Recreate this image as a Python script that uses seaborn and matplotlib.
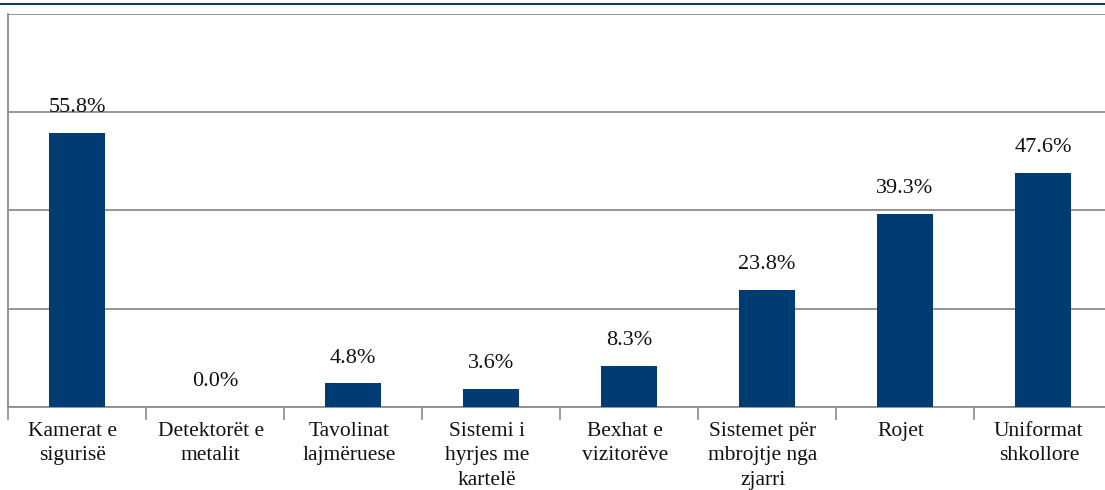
import matplotlib
matplotlib.use("Agg")
import matplotlib.pyplot as plt
import seaborn as sns
import pandas as pd
from matplotlib.lines import Line2D

categories = [
    "Kamerat e\nsigurisë",
    "Detektorët e\nmetalit",
    "Tavolinat\nlajmëruese",
    "Sistemi i\nhyrjes me\nkartelë",
    "Bexhat e\nvizitorëve",
    "Sistemet për\nmbrojtje nga\nzjarri",
    "Rojet",
    "Uniformat\nshkollore",
]
values = [55.8, 0.0, 4.8, 3.6, 8.3, 23.8, 39.3, 47.6]
value_labels = ["55.8%", "0.0%", "4.8%", "3.6%", "8.3%", "23.8%", "39.3%", "47.6%"]

df = pd.DataFrame({"category": categories, "value": values})

sns.set_style("white")
plt.rcParams["font.family"] = ["Liberation Serif", "DejaVu Serif"]

fig = plt.figure(figsize=(11.05, 4.9), dpi=100)
# plot area: x from 8px to ~1112px, y from 14px to 407px
ax = fig.add_axes([8 / 1105, (490 - 407) / 490, 1104 / 1105, (407 - 14) / 490])

sns.barplot(data=df, x="category", y="value", color="#003c71", width=0.4,
            saturation=1, linewidth=0, ax=ax, zorder=3)

ax.set_xlim(-0.5, 7.5)
ax.set_ylim(0, 80)
ax.set_yticks([0, 20, 40, 60, 80])
ax.set_yticklabels([])
ax.tick_params(axis="y", left=False, length=0)
ax.grid(axis="y", color="#8c8c8c", linewidth=1.3, zorder=0)
ax.set_axisbelow(True)
ax.set_xlabel("")
ax.set_ylabel("")

# ticks at category boundaries
ax.set_xticks([i - 0.5 for i in range(8)])
ax.set_xticklabels([])
ax.tick_params(axis="x", bottom=True, length=9, width=1.2, color="#8c8c8c",
               direction="out")
for i, lab in enumerate(categories):
    ax.text(i - 0.03, -3.0, lab, ha="center", va="top", fontsize=15.5,
            linespacing=1.4, color="#111111")

for sp in ["top", "right"]:
    ax.spines[sp].set_visible(False)
for sp in ["left", "bottom"]:
    ax.spines[sp].set_color("#8c8c8c")
    ax.spines[sp].set_linewidth(1.3)

for i, (v, t) in enumerate(zip(values, value_labels)):
    ax.annotate(t, (i, v), xytext=(0, 15), textcoords="offset points",
                ha="center", va="baseline", fontsize=16, color="#111111")

# thin blue rule along the top of the figure
fig.add_artist(Line2D([0, 1], [1 - 4 / 490, 1 - 4 / 490], color="#0b3d73",
                      linewidth=1.5, transform=fig.transFigure))

fig.savefig("out.png", dpi=100)
